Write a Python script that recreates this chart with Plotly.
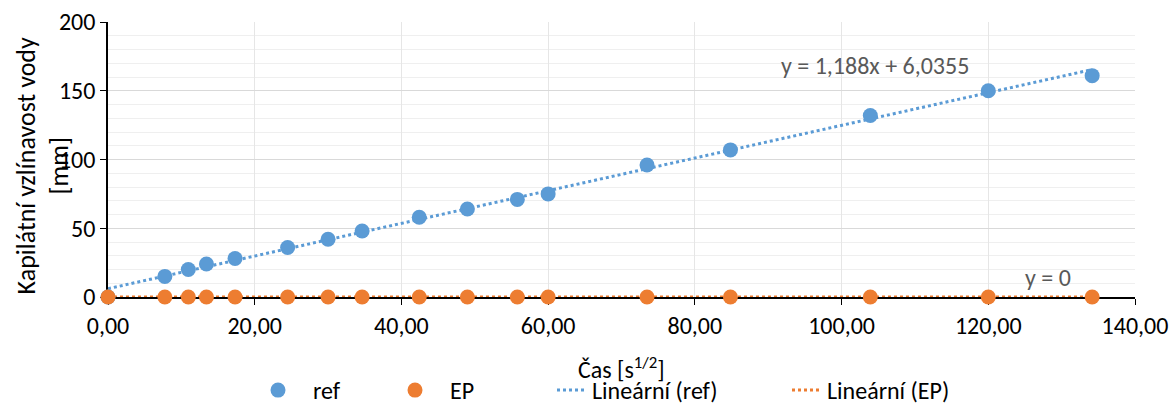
import plotly.graph_objects as go

# Data
time_sqrt = [0, 7.75, 10.95, 13.42, 17.32, 24.49, 30.0, 34.64, 42.43, 48.99,
             55.8, 60.0, 73.48, 84.85, 103.92, 120.0, 134.16]
ref = [0, 15, 20, 24, 28, 36, 42, 48, 58, 64, 71, 75, 96, 107, 132, 150, 161]
ep = [0] * len(time_sqrt)

ref_slope, ref_intercept = 1.188, 6.0355
ep_slope, ep_intercept = 0.0, 0.0

x_ticks = [0, 20, 40, 60, 80, 100, 120, 140]
y_ticks = [0, 50, 100, 150, 200]

BLUE = "#5B9BD5"
ORANGE = "#ED7D31"
FONT = "Carlito, 'Liberation Sans Narrow', Lato, sans-serif"

# plot area spans page x 108..1135, y 22..297
PLOT_L, PLOT_W = 108, 1027


def px_x(page_x):
    return (page_x - PLOT_L) / PLOT_W


trend_x = [min(time_sqrt), max(time_sqrt)]
ref_trend = [ref_slope * v + ref_intercept for v in trend_x]
ep_trend = [ep_slope * v + ep_intercept for v in trend_x]

fig = go.Figure()
fig.add_trace(go.Scatter(x=trend_x, y=ref_trend, mode="lines", name="Lineární (ref)",
                         line=dict(color=BLUE, width=3, dash="dot"), legend="legend3",
                         cliponaxis=False))
fig.add_trace(go.Scatter(x=trend_x, y=ep_trend, mode="lines", name="Lineární (EP)",
                         line=dict(color=ORANGE, width=3, dash="dot"), legend="legend4",
                         cliponaxis=False))
fig.add_trace(go.Scatter(x=time_sqrt, y=ref, mode="markers", name="ref",
                         marker=dict(color=BLUE, size=15), legend="legend",
                         cliponaxis=False))
fig.add_trace(go.Scatter(x=time_sqrt, y=ep, mode="markers", name="EP",
                         marker=dict(color=ORANGE, size=15), legend="legend2",
                         cliponaxis=False))

LEG_Y = -0.34
leg_common = dict(orientation="h", yanchor="middle", y=LEG_Y, xanchor="left",
                  font=dict(size=24, color="#000000"), bgcolor="rgba(0,0,0,0)")

fig.update_layout(
    width=1172, height=405,
    margin=dict(l=108, r=37, t=22, b=108, autoexpand=False),
    paper_bgcolor="white", plot_bgcolor="white",
    separators=",.",
    font=dict(family=FONT, size=24, color="#000000"),
    showlegend=True,
    legend=dict(x=px_x(243), itemwidth=60, **leg_common),
    legend2=dict(x=px_x(380), itemwidth=60, **leg_common),
    legend3=dict(x=px_x(552), **leg_common),
    legend4=dict(x=px_x(787), **leg_common),
    xaxis=dict(range=[0, 140], tickvals=x_ticks, tickformat=".2f", automargin=False,
               showgrid=True, gridcolor="#E6E6E6", gridwidth=1,
               showline=True, linecolor="#000000", linewidth=1.5,
               ticks="outside", ticklen=6, tickcolor="#000000",
               zeroline=False, layer="below traces",
               tickfont=dict(size=24)),
    yaxis=dict(range=[0, 200], tickvals=y_ticks, automargin=False,
               showgrid=True, gridcolor="#D9D9D9", gridwidth=1,
               minor=dict(dtick=10, showgrid=True, gridcolor="#EFEFEF", ticks=""),
               showline=True, linecolor="#000000", linewidth=1.5,
               ticks="outside", ticklen=6, tickcolor="#000000",
               zeroline=False, layer="below traces",
               tickfont=dict(size=24)),
    annotations=[
        dict(text="Kapilátní vzlínavost vody<br>[mm]", xref="paper", yref="paper",
             x=px_x(43), y=0.475, xanchor="center", yanchor="middle", textangle=-90,
             showarrow=False, font=dict(size=26, color="#000000")),
        dict(text="Čas [s<sup>1/2</sup>]", xref="paper", yref="paper",
             x=px_x(621), y=-0.258, xanchor="center", yanchor="middle",
             showarrow=False, font=dict(size=24, color="#000000")),
        dict(text="y = 1,188x + 6,0355", xref="x", yref="y",
             x=104.5, y=168.5, xanchor="center", yanchor="middle",
             showarrow=False, font=dict(size=24, color="#595959")),
        dict(text="y = 0", xref="x", yref="y",
             x=128.1, y=14.5, xanchor="center", yanchor="middle",
             showarrow=False, font=dict(size=24, color="#595959")),
    ],
)

fig.write_html("out.html", config={"displayModeBar": False},
               post_script="document.body.style.margin='0';")
